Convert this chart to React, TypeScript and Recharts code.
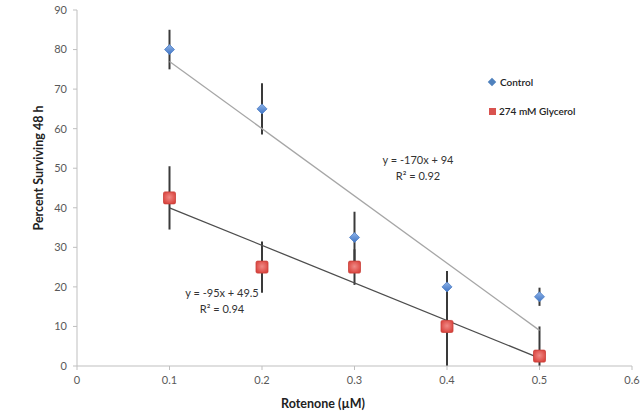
import { ComposedChart, Scatter, XAxis, YAxis, ErrorBar } from 'recharts'

// ─── Data ────────────────────────────────────────────────────────────

const concentrations = [0.1, 0.2, 0.3, 0.4, 0.5]
const controlValues = [80, 65, 32.5, 20, 17.5]
const controlErrors = [5, 6.5, 6.5, 4, 2.3]
const glycerolValues = [42.5, 25, 25, 10, 2.5]
const glycerolErrors: [number, number][] = [[8, 8], [6.5, 6.5], [4.5, 4.5], [10, 10], [2.5, 7.5]]

const xTicks = [0, 0.1, 0.2, 0.3, 0.4, 0.5, 0.6]
const yTicks = [0, 10, 20, 30, 40, 50, 60, 70, 80, 90]

// trendline y = slope * x + intercept, drawn over the measured range
const controlFit = { slope: -170, intercept: 94 }
const glycerolFit = { slope: -95, intercept: 49.5 }
const fitRange = [0.1, 0.5]

const controlData = concentrations.map((x, i) => ({ x, y: controlValues[i], err: controlErrors[i] }))
const glycerolData = concentrations.map((x, i) => ({ x, y: glycerolValues[i], err: glycerolErrors[i] }))
const controlLine = fitRange.map((x) => ({ x, y: controlFit.slope * x + controlFit.intercept }))
const glycerolLine = fitRange.map((x) => ({ x, y: glycerolFit.slope * x + glycerolFit.intercept }))

// ─── Shapes ──────────────────────────────────────────────────────────

const Diamond = (props: any) => {
    const { cx, cy } = props
    const r = 5
    return (
        <g>
            <defs>
                <linearGradient id="dia" x1="0" y1="0" x2="0" y2="1">
                    <stop offset="0%" stopColor="#8fb4e8" />
                    <stop offset="100%" stopColor="#3f74c4" />
                </linearGradient>
            </defs>
            <polygon points={`${cx},${cy - r} ${cx + r},${cy} ${cx},${cy + r} ${cx - r},${cy}`} fill="url(#dia)" stroke="#4a7cc6" strokeWidth={0.8} />
        </g>
    )
}

const Square = (props: any) => {
    const { cx, cy } = props
    const s = 6
    return (
        <g>
            <defs>
                <radialGradient id="sq" cx="50%" cy="45%" r="60%">
                    <stop offset="0%" stopColor="#f08a86" />
                    <stop offset="100%" stopColor="#d9423c" />
                </radialGradient>
            </defs>
            <rect x={cx - s} y={cy - s} width={s * 2} height={s * 2} rx={1.5} fill="url(#sq)" stroke="#c9403a" strokeWidth={0.8} />
        </g>
    )
}

const NoDot = () => null

// ─── Component ───────────────────────────────────────────────────────

const font = 'Lato, "Open Sans", sans-serif'
const tick = { fill: '#595959', fontSize: 11, fontFamily: font }

export default function App() {
    return (
        <div style={{ position: 'absolute', left: 0, top: 0, width: 644, height: 417, background: '#fff', fontFamily: font }}>
            <ComposedChart width={644} height={417} margin={{ top: 10, right: 12, left: 0, bottom: 0 }}>
                <XAxis type="number" dataKey="x" domain={[0, 0.6]} ticks={xTicks} height={51} tick={tick}
                    stroke="#bfbfbf" tickSize={4} tickMargin={6} allowDuplicatedCategory={false} />
                <YAxis type="number" dataKey="y" domain={[0, 90]} ticks={yTicks} width={77} tick={tick}
                    stroke="#bfbfbf" tickSize={4} tickMargin={6} />
                <Scatter data={controlLine} line={{ stroke: '#a6a6a6', strokeWidth: 1.3 }} shape={NoDot} isAnimationActive={false} />
                <Scatter data={glycerolLine} line={{ stroke: '#4d4d4d', strokeWidth: 1.3 }} shape={NoDot} isAnimationActive={false} />
                <Scatter data={glycerolData} shape={Square} isAnimationActive={false}>
                    <ErrorBar dataKey="err" direction="y" width={0} stroke="#3a3a3a" strokeWidth={2} />
                </Scatter>
                <Scatter data={controlData} shape={Diamond} isAnimationActive={false}>
                    <ErrorBar dataKey="err" direction="y" width={0} stroke="#3a3a3a" strokeWidth={2} />
                </Scatter>
            </ComposedChart>

            <div style={{ position: 'absolute', left: 38, top: 168, transform: 'translate(-50%, -50%) rotate(-90deg)', whiteSpace: 'nowrap', fontSize: 12.5, fontWeight: 700, color: '#222' }}>
                Percent Surviving 48 h
            </div>
            <div style={{ position: 'absolute', left: 323, top: 403, transform: 'translate(-50%, -50%)', whiteSpace: 'nowrap', fontSize: 12.5, fontWeight: 700, color: '#222' }}>
                Rotenone (µM)
            </div>

            <div style={{ position: 'absolute', left: 418, top: 168, transform: 'translate(-50%, -50%)', textAlign: 'center', fontSize: 11, lineHeight: '16px', color: '#333', whiteSpace: 'nowrap' }}>
                y = -170x + 94<br />R² = 0.92
            </div>
            <div style={{ position: 'absolute', left: 222, top: 301, transform: 'translate(-50%, -50%)', textAlign: 'center', fontSize: 11, lineHeight: '16px', color: '#333', whiteSpace: 'nowrap' }}>
                y = -95x + 49.5<br />R² = 0.94
            </div>

            <div style={{ position: 'absolute', left: 489, top: 75, fontSize: 10, fontWeight: 600, color: '#222', whiteSpace: 'nowrap' }}>
                <div style={{ display: 'flex', alignItems: 'center', height: 14 }}>
                    <span style={{ display: 'inline-block', width: 6, height: 6, background: '#4f81bd', transform: 'rotate(45deg)', marginRight: 5 }} />
                    Control
                </div>
                <div style={{ display: 'flex', alignItems: 'center', height: 14, marginTop: 15 }}>
                    <span style={{ display: 'inline-block', width: 7, height: 7, background: '#d9534f', marginRight: 3 }} />
                    274 mM Glycerol
                </div>
            </div>
        </div>
    )
}
